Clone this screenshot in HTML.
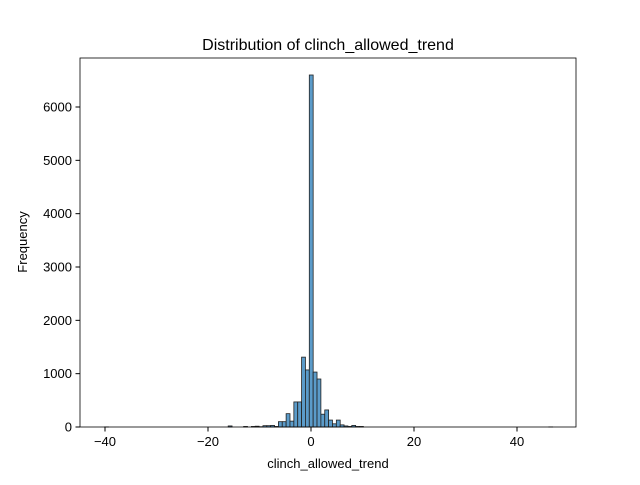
<!DOCTYPE html>
<html><head><meta charset="utf-8"><style>
body{margin:0;background:#fff;font-family:"Liberation Sans",sans-serif}
</style></head><body>
<svg width="640" height="480" xmlns="http://www.w3.org/2000/svg">
<rect width="640" height="480" fill="#fff"/>
<g id="bars"></g>
<rect x="80" y="58" width="496" height="369" fill="none" stroke="#000" stroke-width="0.8"/>
<g id="xt"></g>
<g id="yt"></g>
<text x="328" y="50" text-anchor="middle" font-size="16">Distribution of clinch_allowed_trend</text>
<text x="328" y="468" text-anchor="middle" font-size="13">clinch_allowed_trend</text>
<text transform="translate(27,242) rotate(-90)" text-anchor="middle" font-size="13">Frequency</text>
</svg>
<script>
const binStart = -16.08;
const binWidth = 0.75;
const counts = [20,0,0,0,10,0,10,15,5,25,25,30,10,100,100,250,110,470,470,1310,1070,6600,1030,900,240,320,130,60,130,40,20,10,30,10,10];
const outlierLefts = [-40.08, 46.17];
const outlierCounts = [2, 2];
const xTicks = [-40,-20,0,20,40];
const yTicks = [0,1000,2000,3000,4000,5000,6000];
const X = v => 311 + v*5.15;
const Y = v => 427 - v*(320/6000);
const ns = "http://www.w3.org/2000/svg";
const bars = document.getElementById('bars');
function bar(l, c){
  if(c<=0) return;
  const r = document.createElementNS(ns,'rect');
  r.setAttribute('x', X(l)); r.setAttribute('width', X(l+binWidth)-X(l));
  r.setAttribute('y', Y(c)); r.setAttribute('height', Y(0)-Y(c));
  r.setAttribute('fill','#5b9bc9'); r.setAttribute('stroke','#222'); r.setAttribute('stroke-width','0.8');
  
  
  bars.appendChild(r);
}
counts.forEach((c,i)=>bar(binStart+i*binWidth, c));
outlierLefts.forEach((l,i)=>bar(l, outlierCounts[i]));
const xt = document.getElementById('xt');
xTicks.forEach(t=>{
  const l = document.createElementNS(ns,'line');
  l.setAttribute('x1',X(t)); l.setAttribute('x2',X(t)); l.setAttribute('y1',427); l.setAttribute('y2',431.5); l.setAttribute('stroke','#000');
  
  
  xt.appendChild(l);
  const tx = document.createElementNS(ns,'text');
  tx.setAttribute('x',X(t)); tx.setAttribute('y',446); tx.setAttribute('text-anchor','middle'); tx.setAttribute('font-size','13');
  tx.textContent = t<0 ? '\u2212'+(-t) : t;
  
  
  xt.appendChild(tx);
});
const yt = document.getElementById('yt');
yTicks.forEach(t=>{
  const l = document.createElementNS(ns,'line');
  l.setAttribute('x1',75.5); l.setAttribute('x2',80); l.setAttribute('y1',Y(t)); l.setAttribute('y2',Y(t)); l.setAttribute('stroke','#000');
  
  
  yt.appendChild(l);
  const tx = document.createElementNS(ns,'text');
  tx.setAttribute('x',72); tx.setAttribute('y',Y(t)+4.5); tx.setAttribute('text-anchor','end'); tx.setAttribute('font-size','13');
  tx.textContent = t;
  
  
  yt.appendChild(tx);
});
</script>
</body></html>
